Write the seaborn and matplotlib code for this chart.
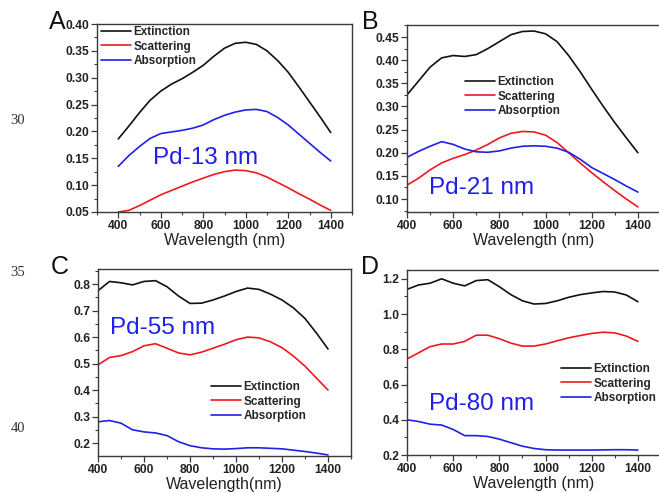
import matplotlib
matplotlib.use("Agg")
import matplotlib.pyplot as plt
from matplotlib.ticker import MultipleLocator
import seaborn as sns
import pandas as pd

# Wavelength grid (nm) shared by all spectra
wavelength = [400, 450, 500, 550, 600, 650, 700, 750, 800, 850, 900,
              950, 1000, 1050, 1100, 1150, 1200, 1250, 1300, 1350, 1400]

# Pd-13 nm
ext_13 = [0.186, 0.21, 0.235, 0.258, 0.275, 0.288, 0.298, 0.31, 0.323, 0.34, 0.355,
          0.364, 0.366, 0.362, 0.35, 0.332, 0.31, 0.283, 0.255, 0.227, 0.198]
sca_13 = [0.05, 0.053, 0.062, 0.072, 0.082, 0.09, 0.098, 0.106, 0.113, 0.12, 0.125,
          0.128, 0.127, 0.123, 0.115, 0.105, 0.095, 0.084, 0.074, 0.063, 0.053]
abs_13 = [0.135, 0.155, 0.172, 0.187, 0.196, 0.199, 0.202, 0.206, 0.212, 0.222, 0.23,
          0.236, 0.24, 0.241, 0.237, 0.226, 0.212, 0.195, 0.178, 0.161, 0.145]

# Pd-21 nm
ext_21 = [0.325, 0.355, 0.385, 0.405, 0.41, 0.408, 0.412, 0.425, 0.44, 0.455, 0.462,
          0.463, 0.457, 0.44, 0.41, 0.375, 0.337, 0.30, 0.265, 0.232, 0.20]
sca_21 = [0.13, 0.145, 0.163, 0.178, 0.188, 0.196, 0.206, 0.218, 0.232, 0.242, 0.246,
          0.245, 0.238, 0.222, 0.2, 0.178, 0.157, 0.137, 0.118, 0.1, 0.083]
abs_21 = [0.19, 0.203, 0.214, 0.224, 0.218, 0.208, 0.202, 0.201, 0.204, 0.21, 0.214,
          0.215, 0.214, 0.21, 0.201, 0.186, 0.168, 0.155, 0.142, 0.128, 0.115]

# Pd-55 nm
ext_55 = [0.775, 0.81, 0.805, 0.797, 0.81, 0.813, 0.79, 0.755, 0.727, 0.728, 0.74,
          0.755, 0.772, 0.785, 0.78, 0.762, 0.74, 0.71, 0.67, 0.615, 0.555]
sca_55 = [0.495, 0.523, 0.53, 0.545, 0.567, 0.575, 0.558, 0.54, 0.533, 0.543, 0.558,
          0.573, 0.59, 0.6, 0.597, 0.582, 0.56, 0.528, 0.49, 0.445, 0.40]
abs_55 = [0.28, 0.285, 0.275, 0.25, 0.242, 0.238, 0.228, 0.205, 0.19, 0.182, 0.178,
          0.177, 0.179, 0.182, 0.182, 0.18, 0.178, 0.173, 0.168, 0.162, 0.155]

# Pd-80 nm
ext_80 = [1.14, 1.165, 1.175, 1.2, 1.175, 1.16, 1.19, 1.195, 1.155, 1.11, 1.075,
          1.057, 1.06, 1.075, 1.095, 1.11, 1.12, 1.128, 1.125, 1.108, 1.07]
sca_80 = [0.745, 0.78, 0.815, 0.83, 0.83, 0.845, 0.88, 0.88, 0.86, 0.835, 0.818,
          0.818, 0.83, 0.848, 0.865, 0.878, 0.89, 0.897, 0.893, 0.875, 0.845]
abs_80 = [0.40, 0.39, 0.375, 0.37, 0.345, 0.31, 0.31, 0.305, 0.29, 0.27, 0.25,
          0.237, 0.23, 0.228, 0.228, 0.228, 0.228, 0.229, 0.23, 0.23, 0.228]

series_names = ["Extinction", "Scattering", "Absorption"]
panel_letters = ["A", "B", "C", "D"]
size_labels = ["Pd-13 nm", "Pd-21 nm", "Pd-55 nm", "Pd-80 nm"]
xlabels = ["Wavelength (nm)", "Wavelength (nm)", "Wavelength(nm)", "Wavelength (nm)"]
margin_numbers = ["30", "35", "40"]

sns.set_style("ticks")
plt.rcParams["font.family"] = ["Liberation Sans", "DejaVu Sans"]

palette = {"Extinction": "#111111", "Scattering": "#f01820", "Absorption": "#2020e8"}
axis_color = "#3a3a3a"

fig = plt.figure(figsize=(6.59, 4.93), dpi=100)

W, H = 659.0, 493.0


def frac_box(left, top, right, bottom):
    return [left / W, 1 - bottom / H, (right - left) / W, (bottom - top) / H]


panels = [
    dict(box=frac_box(97, 24, 352, 212), data=(ext_13, sca_13, abs_13),
         xlim=(300, 1500), ylim=(0.05, 0.40), ymaj=0.05, ymin=0.025, yfmt="{:.2f}",
         letter_xy=(57, 22), text_xy=(206, 158), legend_xy=(101, 26)),
    dict(box=frac_box(407, 25, 661, 212), data=(ext_21, sca_21, abs_21),
         xlim=(400, 1500), ylim=(0.072, 0.476), ymaj=0.05, ymin=0.025, yfmt="{:.2f}",
         letter_xy=(370, 22), text_xy=(482, 188), legend_xy=(465, 76)),
    dict(box=frac_box(98, 269, 351, 456), data=(ext_55, sca_55, abs_55),
         xlim=(400, 1500), ylim=(0.151, 0.857), ymaj=0.1, ymin=0.05, yfmt="{:.1f}",
         letter_xy=(60, 267), text_xy=(163, 328), legend_xy=(211, 381)),
    dict(box=frac_box(407, 270, 661, 455), data=(ext_80, sca_80, abs_80),
         xlim=(400, 1500), ylim=(0.2, 1.25), ymaj=0.2, ymin=0.1, yfmt="{:.1f}",
         letter_xy=(370, 267), text_xy=(482, 404), legend_xy=(561, 363)),
]

for i, p in enumerate(panels):
    ax = fig.add_axes(p["box"])
    ext, sca, absn = p["data"]
    df = pd.DataFrame({
        "Wavelength": wavelength * 3,
        "Value": ext + sca + absn,
        "Series": [s for s in series_names for _ in wavelength],
    })
    sns.lineplot(data=df, x="Wavelength", y="Value", hue="Series",
                 hue_order=series_names, palette=palette, linewidth=1.2,
                 legend=False, ax=ax, sort=False, estimator=None)
    ax.set_xlim(*p["xlim"])
    ax.set_ylim(*p["ylim"])
    ax.xaxis.set_major_locator(MultipleLocator(200))
    ax.xaxis.set_minor_locator(MultipleLocator(100))
    ax.yaxis.set_major_locator(MultipleLocator(p["ymaj"]))
    ax.yaxis.set_minor_locator(MultipleLocator(p["ymin"]))
    ax.yaxis.set_major_formatter(plt.FuncFormatter(lambda v, _, f=p["yfmt"]: f.format(v)))
    ax.set_ylabel("")
    ax.set_xlabel(xlabels[i], fontsize=11.5, color="#222222", labelpad=1)
    for sp in ax.spines.values():
        sp.set_visible(True)
        sp.set_color(axis_color)
        sp.set_linewidth(1.0)
    ax.tick_params(which="major", direction="out", length=4, width=0.9,
                   color=axis_color, labelsize=8.7, pad=1.5, labelcolor="#222222")
    ax.tick_params(which="minor", direction="out", length=2, width=0.8, color=axis_color)
    for lab in ax.get_xticklabels() + ax.get_yticklabels():
        lab.set_fontweight("bold")

    ax.legend(handles=ax.lines[:3], labels=series_names, loc="upper left",
              bbox_to_anchor=(p["legend_xy"][0] / W, 1 - p["legend_xy"][1] / H),
              bbox_transform=fig.transFigure, frameon=False, borderpad=0,
              borderaxespad=0, handlelength=2.5, handletextpad=0.25,
              labelspacing=0.22, prop={"weight": "bold", "size": 8.5})

    fig.text(p["letter_xy"][0] / W, 1 - p["letter_xy"][1] / H, panel_letters[i],
             fontsize=18, ha="center", va="center", color="#111111")
    fig.text(p["text_xy"][0] / W, 1 - p["text_xy"][1] / H, size_labels[i],
             fontsize=17.5, ha="center", va="center", color="#2020e8")

for num, y in zip(margin_numbers, [120, 272, 428]):
    fig.text(18 / W, 1 - y / H, num, fontsize=10.5, ha="center", va="center",
             family=["Liberation Serif", "DejaVu Serif"], color="#333333")

fig.savefig("out.png", dpi=100)
